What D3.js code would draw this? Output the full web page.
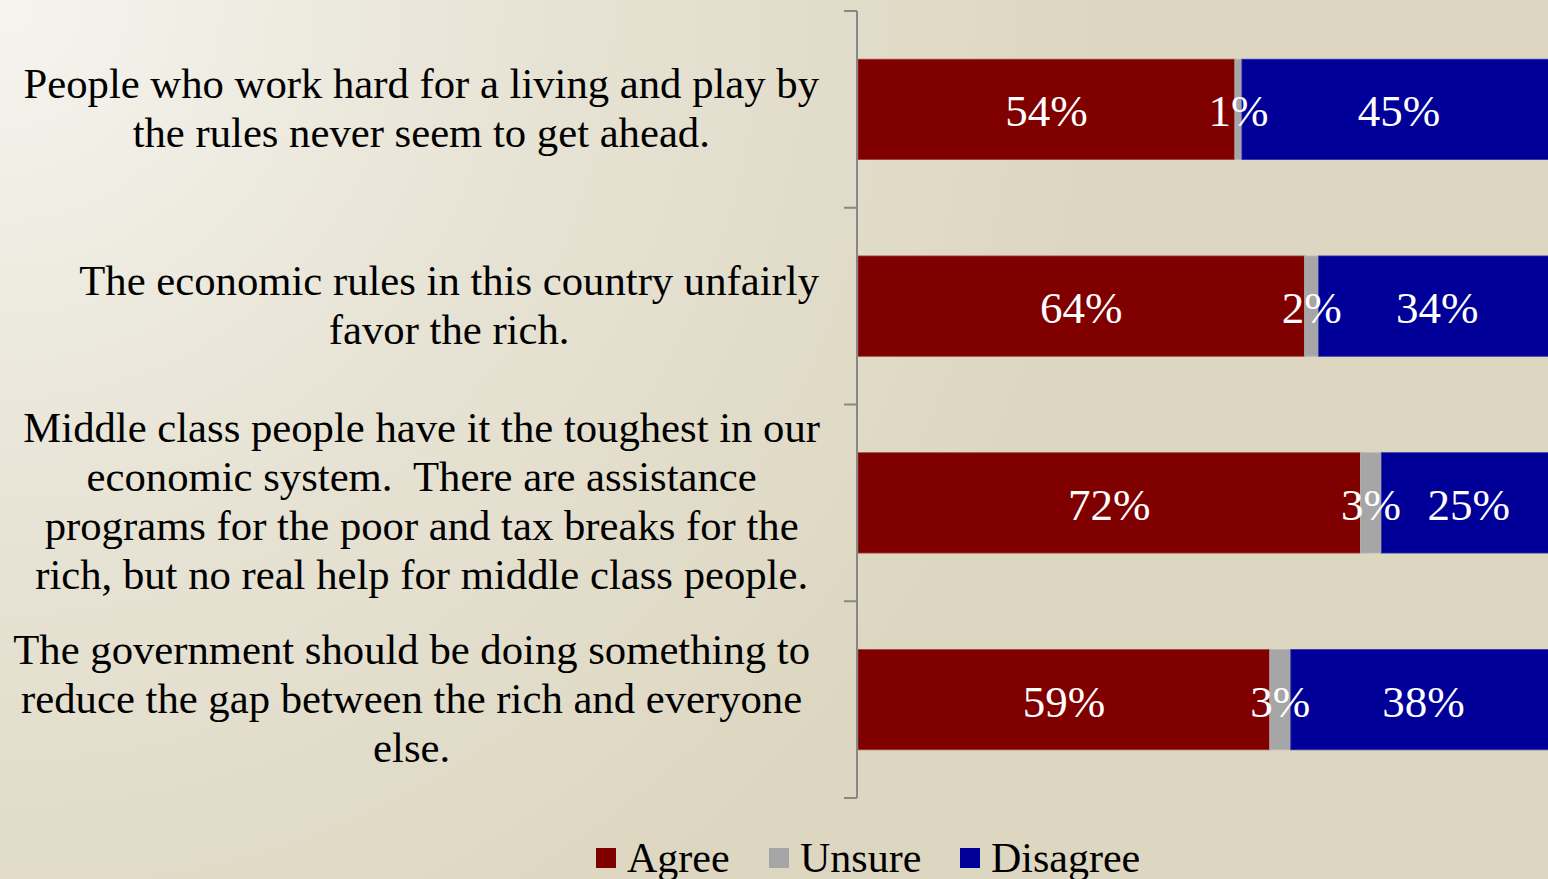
<!DOCTYPE html>
<html>
<head>
<meta charset="utf-8">
<script src="https://cdn.jsdelivr.net/npm/d3@7"></script>
<style>
html,body{margin:0;padding:0;overflow:hidden;}
svg{display:block;}
text{font-family:"Liberation Serif","Times New Roman",serif;}
</style>
</head>
<body>
<script>
const categories = [
  ["People who work hard for a living and play by", "the rules never seem to get ahead."],
  ["The economic rules in this country unfairly", "favor the rich."],
  ["Middle class people have it the toughest in our", "economic system.  There are assistance", "programs for the poor and tax breaks for the", "rich, but no real help for middle class people."],
  ["The government should be doing something to", "reduce the gap between the rich and everyone", "else."]
];
const seriesNames = ["Agree", "Unsure", "Disagree"];
const agree = [54, 64, 72, 59];
const unsure = [1, 2, 3, 3];
const disagree = [45, 34, 25, 38];
const colors = ["#800000", "#a6a6a6", "#000099"];
const strokes = ["#a04040", "#b8b8b8", "#3030b0"];

const W = 1548, H = 879;
const svg = d3.select("body").append("svg").attr("width", W).attr("height", H);

const defs = svg.append("defs");
const grad = defs.append("radialGradient").attr("id", "bg")
  .attr("gradientUnits", "userSpaceOnUse")
  .attr("cx", 0).attr("cy", 0).attr("r", 1100);
grad.append("stop").attr("offset", 0).attr("stop-color", "#f6f4ef");
grad.append("stop").attr("offset", 0.45).attr("stop-color", "#e8e4d6");
grad.append("stop").attr("offset", 1).attr("stop-color", "#ddd7c1");
svg.append("rect").attr("width", W).attr("height", H).attr("fill", "url(#bg)");

const idx = d3.range(categories.length);
const y = d3.scaleBand().domain(idx).range([11, 798]).paddingInner(0.49).paddingOuter(0.245);
const x = d3.scaleLinear().domain([0, 100]).range([858, 1556]);

const series = seriesNames.map((name, s) => {
  const vals = [agree, unsure, disagree][s];
  return idx.map(i => {
    const start = d3.sum([agree, unsure, disagree].slice(0, s), a => a[i]);
    return {i, s, v: vals[i], x0: start, x1: start + vals[i]};
  });
});

// bars
series.forEach((ser, s) => {
  svg.append("g").selectAll("rect").data(ser).join("rect")
    .attr("x", d => x(d.x0))
    .attr("y", d => y(d.i))
    .attr("width", d => x(d.x1) - x(d.x0))
    .attr("height", y.bandwidth())
    .attr("fill", colors[s])
    .attr("stroke", strokes[s])
    .attr("stroke-width", 0.8);
});

// data labels
series.forEach((ser, s) => {
  svg.append("g").selectAll("text").data(ser).join("text")
    .attr("x", d => x((d.x0 + d.x1) / 2))
    .attr("y", d => y(d.i) + y.bandwidth() / 2 + 17)
    .attr("text-anchor", "middle")
    .attr("font-size", 45)
    .attr("fill", "#ffffff")
    .text(d => d.v + "%");
});

// axis
const axisX = 857;
const ax = svg.append("g").attr("stroke", "#878787").attr("stroke-width", 2).attr("fill", "none");
ax.append("line").attr("x1", axisX).attr("x2", axisX).attr("y1", y.range()[0]).attr("y2", y.range()[1]);
const tickYs = d3.range(categories.length + 1).map(k => y.range()[0] + k * y.step());
ax.selectAll("line.tick").data(tickYs).join("line").attr("class", "tick")
  .attr("x1", axisX - 13).attr("x2", axisX).attr("y1", d => d).attr("y2", d => d);

// category labels
const lh = 49, rightEdges = [819, 819, 820, 810];
idx.forEach(i => {
  const lines = categories[i];
  const g = svg.append("g");
  const cy = y(i) + y.bandwidth() / 2;
  const texts = g.selectAll("text").data(lines).join("text")
    .attr("font-size", 42.7)
    .attr("fill", "#000")
    .attr("text-anchor", "middle")
    .style("white-space", "pre")
    .attr("y", (d, k) => cy - (lines.length - 1) / 2 * lh + 13 + k * lh)
    .text(d => d);
  let maxW = 0;
  texts.each(function () { maxW = Math.max(maxW, this.getComputedTextLength()); });
  texts.attr("x", rightEdges[i] - maxW / 2);
});

// legend
const legendItems = [
  {name: seriesNames[0], sx: 596, c: colors[0]},
  {name: seriesNames[1], sx: 769, c: colors[1]},
  {name: seriesNames[2], sx: 960, c: colors[2]}
];
const lg = svg.append("g");
legendItems.forEach(d => {
  lg.append("rect").attr("x", d.sx).attr("y", 848).attr("width", 20).attr("height", 20).attr("fill", d.c);
  lg.append("text").attr("x", d.sx + 31).attr("y", 872).attr("font-size", 42).attr("fill", "#000").text(d.name);
});
</script>
</body>
</html>
